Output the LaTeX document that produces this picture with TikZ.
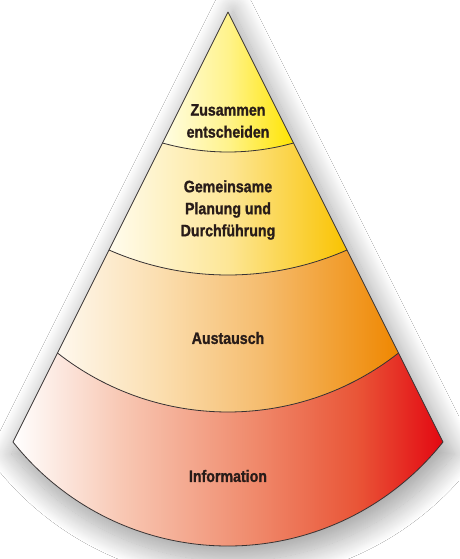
\documentclass[tikz,border=0pt]{standalone}
\usepackage{fontspec}
\setmainfont{Liberation Sans}[FakeStretch=0.88,
  BoldFeatures={FakeStretch=0.86, FakeBold=1.2}]
\usetikzlibrary{shadows.blur}

% colour stops of the four layers
\definecolor{inkline}{RGB}{55,50,50}
\definecolor{inktext}{RGB}{40,28,25}
\definecolor{yA}{RGB}{255,253,228}
\definecolor{yB}{RGB}{255,243,140}
\definecolor{yC}{RGB}{255,228,0}
\definecolor{gA}{RGB}{255,252,238}
\definecolor{gB}{RGB}{253,230,150}
\definecolor{gC}{RGB}{249,195,0}
\definecolor{oA}{RGB}{254,248,238}
\definecolor{oB}{RGB}{251,222,175}
\definecolor{oC}{RGB}{245,188,110}
\definecolor{oD}{RGB}{239,135,0}
\definecolor{rA}{RGB}{255,255,255}
\definecolor{rB}{RGB}{248,200,180}
\definecolor{rC}{RGB}{240,140,110}
\definecolor{rD}{RGB}{233,85,55}
\definecolor{rE}{RGB}{227,8,18}

% the path's width is mapped onto 25bp..75bp of each shading
\pgfdeclarehorizontalshading{layerone}{100bp}{color(0bp)=(yA); color(25bp)=(yA); color(50bp)=(yB); color(75bp)=(yC); color(100bp)=(yC)}
\pgfdeclarehorizontalshading{layertwo}{100bp}{color(0bp)=(gA); color(25bp)=(gA); color(50bp)=(gB); color(75bp)=(gC); color(100bp)=(gC)}
\pgfdeclarehorizontalshading{layerthree}{100bp}{color(0bp)=(oA); color(25bp)=(oA); color(40bp)=(oB); color(55bp)=(oC); color(75bp)=(oD); color(100bp)=(oD)}
\pgfdeclarehorizontalshading{layerfour}{100bp}{color(0bp)=(rA); color(25bp)=(rA); color(37.5bp)=(rB); color(52.5bp)=(rC); color(65bp)=(rD); color(75bp)=(rE); color(100bp)=(rE)}

\begin{document}
\begin{tikzpicture}[x=1pt,y=1pt,
  edge/.style={draw=inkline, line width=0.8pt, line join=round},
  label/.style={text=inktext, align=center, font=\bfseries\fontsize{16.5}{22}\selectfont}]
\useasboundingbox (0,0) rectangle (459,-559);
\fill[white] (0,0) rectangle (459,-559);

% cone: apex at (228,-12), sides of slope 1/2; each boundary is a
% circular arc through both sides and a lowest point 's' below them
\def\cx{228}
\def\apy{12}
\foreach \i/\ye/\s in {1/143/9, 2/250/25, 3/353/59, 4/442/104}{
  \pgfmathsetmacro{\h}{0.5*(\ye-\apy)}
  \pgfmathsetmacro{\r}{(\h/\s*\h+\s)/2}
  \pgfmathsetmacro{\t}{asin(\h/\r)}
  \expandafter\xdef\csname rad\i\endcsname{\r}
  \expandafter\xdef\csname ang\i\endcsname{\t}
  \coordinate (L\i) at (\cx-\h,-\ye);
  \coordinate (R\i) at (\cx+\h,-\ye);
}
\coordinate (A) at (\cx,-\apy);

\def\fwd#1{arc[start angle=-90-\csname ang#1\endcsname, end angle=-90+\csname ang#1\endcsname, radius=\csname rad#1\endcsname]}
\def\rev#1{arc[start angle=-90+\csname ang#1\endcsname, end angle=-90-\csname ang#1\endcsname, radius=\csname rad#1\endcsname]}

% soft drop shadow of the whole cone
\path[fill=white, blur shadow={shadow xshift=5pt, shadow yshift=-7pt,
  shadow scale=1.03, shadow blur radius=20pt, shadow blur steps=24,
  shadow opacity=35}]
  (A) -- (L4) \fwd{4} -- cycle;

% layers
\path[shading=layerone] (A) -- (L1) \fwd{1} -- cycle;
\path[shading=layertwo] (L1) -- (L2) \fwd{2} -- (R1) \rev{1} -- cycle;
\path[shading=layerthree] (L2) -- (L3) \fwd{3} -- (R2) \rev{2} -- cycle;
\path[shading=layerfour] (L3) -- (L4) \fwd{4} -- (R3) \rev{3} -- cycle;

% outlines
\draw[edge] (A) -- (L4) \fwd{4} -- cycle;
\draw[edge] (L1) \fwd{1};
\draw[edge] (L2) \fwd{2};
\draw[edge] (L3) \fwd{3};

% texts
\node[label] (t1) at (\cx,-121) {Zusammen\\entscheiden};
\node[label] (t2) at (\cx,-210) {Gemeinsame\\Planung und\\Durchführung};
\node[label] (t3) at (\cx,-338) {Austausch};
\node[label] (t4) at (\cx,-476) {Information};
\end{tikzpicture}
\end{document}
